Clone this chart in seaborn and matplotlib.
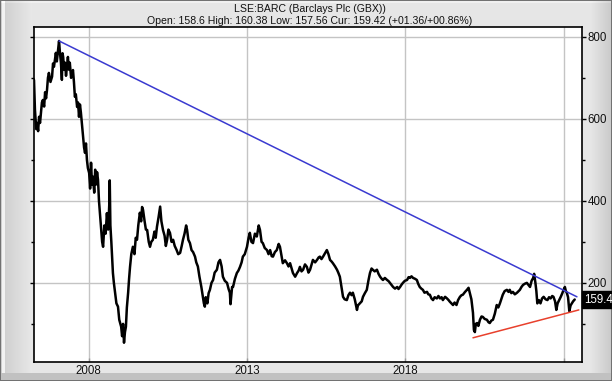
import numpy as np
import pandas as pd
import matplotlib
matplotlib.use("Agg")
import matplotlib.pyplot as plt
import matplotlib.transforms as mtransforms
from matplotlib.ticker import FixedLocator, NullFormatter
import seaborn as sns

sns.set_theme(style="white")
plt.rcParams["font.family"] = ["Liberation Sans", "DejaVu Sans"]

title = "LSE:BARC (Barclays Plc (GBX))"
subtitle = "Open: 158.6 High: 160.38 Low: 157.56 Cur: 159.42 (+01.36/+00.86%)"
current_label = "159.4"
current_value = 159.42

x_ticks = [2008, 2013, 2018, 2023]
x_tick_labels = ["2008", "2013", "2018", ""]
y_ticks = [200, 400, 600, 800]
y_minor_ticks = [100, 300, 500, 700]

dates = [
    2006.28, 2006.30, 2006.31, 2006.35, 2006.38, 2006.41, 2006.44, 2006.47, 2006.50, 2006.53,
    2006.56, 2006.60, 2006.63, 2006.66, 2006.69, 2006.72, 2006.75, 2006.80, 2006.85, 2006.88,
    2006.91, 2006.94, 2006.97, 2007.00, 2007.04, 2007.07, 2007.10, 2007.13, 2007.16, 2007.18,
    2007.20, 2007.23, 2007.26, 2007.29, 2007.32, 2007.35, 2007.38, 2007.41, 2007.45, 2007.48,
    2007.51, 2007.54, 2007.57, 2007.60, 2007.64, 2007.67, 2007.70, 2007.73, 2007.76, 2007.80,
    2007.83, 2007.86, 2007.89, 2007.92, 2007.95, 2007.98, 2008.02, 2008.05, 2008.08, 2008.11,
    2008.14, 2008.18, 2008.21, 2008.24, 2008.27, 2008.30, 2008.33, 2008.36, 2008.40, 2008.43,
    2008.46, 2008.50, 2008.54, 2008.58, 2008.62, 2008.66, 2008.67, 2008.69, 2008.72, 2008.77,
    2008.80, 2008.84, 2008.88, 2008.93, 2008.97, 2009.03, 2009.06, 2009.09, 2009.12, 2009.15,
    2009.18, 2009.21, 2009.25, 2009.28, 2009.31, 2009.35, 2009.40, 2009.45, 2009.49, 2009.53,
    2009.57, 2009.62, 2009.66, 2009.69, 2009.72, 2009.77, 2009.81, 2009.85, 2009.90, 2009.94,
    2009.98, 2010.03, 2010.08, 2010.12, 2010.16, 2010.21, 2010.26, 2010.30, 2010.35, 2010.40,
    2010.44, 2010.48, 2010.52, 2010.57, 2010.62, 2010.67, 2010.72, 2010.78, 2010.83, 2010.89,
    2010.94, 2010.98, 2011.03, 2011.08, 2011.11, 2011.15, 2011.20, 2011.25, 2011.30, 2011.36,
    2011.40, 2011.45, 2011.50, 2011.52, 2011.56, 2011.61, 2011.64, 2011.67, 2011.70, 2011.75,
    2011.79, 2011.83, 2011.88, 2011.93, 2011.98, 2012.05, 2012.10, 2012.15, 2012.20, 2012.24,
    2012.30, 2012.37, 2012.42, 2012.46, 2012.48, 2012.53, 2012.56, 2012.62, 2012.68, 2012.73,
    2012.78, 2012.83, 2012.87, 2012.93, 2013.00, 2013.05, 2013.09, 2013.14, 2013.19, 2013.25,
    2013.31, 2013.37, 2013.41, 2013.46, 2013.50, 2013.56, 2013.63, 2013.68, 2013.73, 2013.78,
    2013.82, 2013.88, 2013.94, 2014.00, 2014.04, 2014.09, 2014.13, 2014.20, 2014.26, 2014.31,
    2014.36, 2014.41, 2014.45, 2014.52, 2014.58, 2014.63, 2014.67, 2014.72, 2014.77, 2014.83,
    2014.89, 2014.94, 2014.99, 2015.04, 2015.08, 2015.15, 2015.21, 2015.26, 2015.30, 2015.35,
    2015.40, 2015.46, 2015.52, 2015.57, 2015.62, 2015.67, 2015.71, 2015.78, 2015.84, 2015.88,
    2015.93, 2015.98, 2016.03, 2016.08, 2016.15, 2016.20, 2016.25, 2016.30, 2016.34, 2016.40,
    2016.47, 2016.50, 2016.56, 2016.62, 2016.66, 2016.72, 2016.78, 2016.83, 2016.88, 2016.93,
    2016.97, 2017.03, 2017.10, 2017.15, 2017.20, 2017.25, 2017.29, 2017.35, 2017.42, 2017.47,
    2017.51, 2017.56, 2017.61, 2017.67, 2017.74, 2017.78, 2017.83, 2017.88, 2017.92, 2017.98,
    2018.05, 2018.10, 2018.14, 2018.19, 2018.24, 2018.30, 2018.36, 2018.40, 2018.45, 2018.50,
    2018.55, 2018.60, 2018.68, 2018.72, 2018.77, 2018.82, 2018.87, 2018.92, 2018.99, 2019.04,
    2019.09, 2019.14, 2019.18, 2019.25, 2019.31, 2019.36, 2019.40, 2019.45, 2019.50, 2019.55,
    2019.61, 2019.66, 2019.72, 2019.77, 2019.81, 2019.88, 2019.94, 2019.99, 2020.03, 2020.08,
    2020.13, 2020.16, 2020.19, 2020.22, 2020.26, 2020.30, 2020.35, 2020.40, 2020.44, 2020.50,
    2020.57, 2020.62, 2020.66, 2020.71, 2020.76, 2020.82, 2020.88, 2020.93, 2020.98, 2021.03,
    2021.07, 2021.13, 2021.20, 2021.25, 2021.29, 2021.34, 2021.39, 2021.45, 2021.52, 2021.57,
    2021.61, 2021.66, 2021.71, 2021.77, 2021.83, 2021.88, 2021.93, 2021.98, 2022.03, 2022.06,
    2022.10, 2022.13, 2022.16, 2022.21, 2022.26, 2022.31, 2022.36, 2022.42, 2022.48, 2022.53,
    2022.58, 2022.63, 2022.67, 2022.72, 2022.76, 2022.80, 2022.85, 2022.90, 2022.95, 2022.99,
    2023.03, 2023.06, 2023.09, 2023.13, 2023.17, 2023.21, 2023.25, 2023.29, 2023.34,
]

prices = [
    695, 640, 622, 575, 590, 570, 605, 590, 615, 640,
    646, 630, 665, 650, 670, 700, 712, 690, 703, 735,
    727, 745, 761, 740, 768, 790, 760, 737, 695, 760,
    751, 720, 737, 705, 727, 751, 720, 737, 700, 712,
    719, 690, 654, 660, 629, 640, 605, 635, 615, 580,
    556, 530, 517, 540, 500, 480, 468, 430, 493, 440,
    459, 420, 476, 440, 470, 451, 400, 370, 330, 300,
    288, 340, 320, 370, 330, 400, 450, 340, 300, 224,
    200, 175, 150, 142, 110, 93, 70, 100, 54, 80,
    93, 140, 176, 210, 239, 270, 288, 270, 310, 305,
    340, 371, 350, 385, 378, 350, 330, 329, 300, 288,
    300, 305, 325, 310, 337, 360, 386, 350, 329, 315,
    290, 305, 330, 322, 300, 305, 290, 280, 270, 273,
    290, 305, 320, 340, 329, 305, 297, 280, 275, 264,
    250, 240, 215, 207, 190, 166, 150, 142, 165, 150,
    175, 183, 200, 207, 225, 232, 250, 256, 240, 215,
    205, 200, 185, 176, 148, 190, 190, 210, 224, 230,
    239, 250, 264, 270, 288, 310, 322, 300, 297, 320,
    313, 340, 329, 300, 297, 285, 280, 270, 280, 265,
    264, 275, 280, 295, 288, 265, 248, 255, 248, 240,
    248, 235, 224, 215, 224, 230, 239, 228, 232, 245,
    239, 225, 232, 245, 256, 250, 256, 262, 264, 258,
    264, 272, 280, 270, 256, 252, 248, 240, 232, 225,
    215, 190, 166, 160, 158, 170, 176, 170, 176, 160,
    134, 145, 150, 155, 166, 175, 183, 205, 224, 235,
    232, 228, 232, 222, 215, 210, 207, 212, 207, 204,
    200, 195, 190, 186, 190, 185, 190, 196, 200, 205,
    207, 214, 212, 216, 212, 210, 207, 198, 190, 186,
    183, 176, 178, 172, 171, 162, 158, 165, 162, 168,
    162, 165, 158, 166, 162, 158, 154, 150, 146, 152,
    146, 158, 166, 170, 171, 178, 183, 188, 176, 160,
    127, 85, 80, 100, 102, 95, 110, 118, 117, 112,
    110, 104, 102, 108, 110, 125, 146, 140, 150, 162,
    171, 180, 183, 178, 183, 175, 178, 172, 176, 180,
    183, 190, 195, 198, 200, 195, 190, 205, 212, 222,
    200, 180, 150, 158, 150, 162, 166, 160, 158, 165,
    162, 168, 166, 155, 134, 150, 158, 166, 175, 183,
    190, 180, 176, 165, 131, 145, 150, 155, 159.42,
]

# trend lines (start/end date, start/end price)
resistance_dates = [2007.07, 2023.41]
resistance_prices = [790, 166]
support_dates = [2020.13, 2023.47]
support_prices = [66, 134]

df = pd.DataFrame({"date": dates, "price": prices})
res_df = pd.DataFrame({"date": resistance_dates, "price": resistance_prices})
sup_df = pd.DataFrame({"date": support_dates, "price": support_prices})

W, H = 612, 381
fig = plt.figure(figsize=(W / 100, H / 100), dpi=100)
fig.patch.set_facecolor("#e6e6e6")

# bevelled grey frame background
bg = fig.add_axes([0, 0, 1, 1], zorder=-10)
xx = np.arange(W)[None, :].repeat(H, 0).astype(float)
yy = np.arange(H)[:, None].repeat(W, 1).astype(float)
val = np.full((H, W), 0.905)
left = xx < 32
val[left] = 0.80 + 0.11 * (xx[left] / 32.0)
right = xx > 590
val[right] = 0.905 - 0.12 * ((xx[right] - 590) / 22.0)
val[(xx >= 2) & (xx < 5)] = 0.95
bottom = yy > 372
val[bottom] = 0.76
val[:3, :] = np.minimum(val[:3, :] + 0.04, 1.0)
val[0, :] = 0.45
val[-1, :] = 0.45
val[:, 0] = 0.45
val[:, -1] = 0.45
bg.imshow(np.dstack([val, val, val]), aspect="auto", extent=(0, W, H, 0))
bg.set_axis_off()

ax = fig.add_axes([34 / W, 1 - 362 / H, 548 / W, 335 / H])
ax.set_facecolor("white")

sns.lineplot(data=df, x="date", y="price", ax=ax, color="black",
             linewidth=1.8, sort=False, estimator=None, zorder=3)
sns.lineplot(data=res_df, x="date", y="price", ax=ax, color="#3a3ad0",
             linewidth=1.1, sort=False, estimator=None, zorder=4)
sns.lineplot(data=sup_df, x="date", y="price", ax=ax, color="#e8402c",
             linewidth=1.1, sort=False, estimator=None, zorder=4)

ax.set_xlim(2006.28, 2023.57)
ax.set_ylim(7, 824)
ax.set_xlabel("")
ax.set_ylabel("")

ax.set_xticks(x_ticks)
ax.set_xticklabels(x_tick_labels)
ax.yaxis.tick_right()
ax.set_yticks(y_ticks)
ax.set_yticklabels([str(v) for v in y_ticks])
ax.yaxis.set_minor_locator(FixedLocator(y_minor_ticks))
ax.yaxis.set_minor_formatter(NullFormatter())

ax.grid(True, which="major", color="#c4c4c4", linewidth=1.0, zorder=0)
ax.set_axisbelow(True)
for s in ax.spines.values():
    s.set_color("black")
    s.set_linewidth(1.2)

ax.tick_params(axis="y", which="major", right=True, left=True, direction="out",
               length=3, width=1, color="black", labelsize=8.3, pad=0.8,
               labelcolor="#111111")
ax.tick_params(axis="y", which="minor", right=True, left=True, direction="out",
               length=2, width=1, color="black")
ax.tick_params(axis="x", which="major", bottom=True, direction="in", length=3,
               width=1, color="#999999", labelsize=8.3, pad=2, labelcolor="#111111")

# current price tag
trans = mtransforms.blended_transform_factory(ax.transAxes, ax.transData)
ax.text(1.004, current_value, current_label, transform=trans, ha="left",
        va="center", color="white", fontsize=8.3, clip_on=False, zorder=10,
        bbox=dict(boxstyle="square,pad=0.18", facecolor="black",
                  edgecolor="black"))

fig.text(0.506, 1 - 9.5 / H, title, ha="center", va="center", fontsize=7.6,
         color="#111111")
fig.text(0.506, 1 - 20.5 / H, subtitle, ha="center", va="center",
         fontsize=7.6, color="#111111")

fig.savefig("out.png", dpi=100, facecolor=fig.get_facecolor())
